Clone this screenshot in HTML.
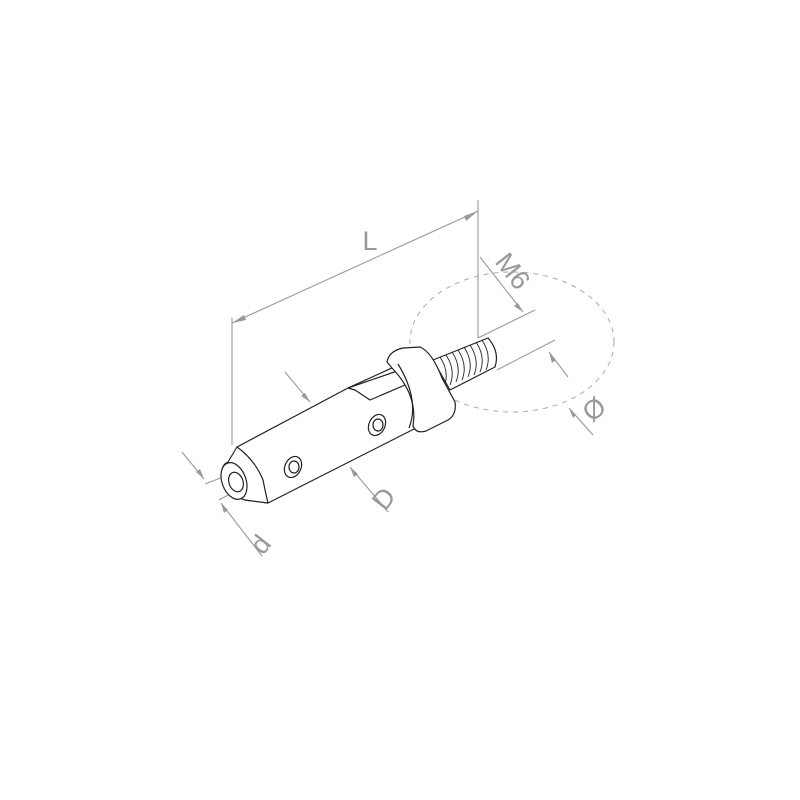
<!DOCTYPE html>
<html><head><meta charset="utf-8"><style>html,body{margin:0;background:#fff}svg{display:block}</style></head><body>
<svg width="800" height="800" viewBox="0 0 800 800" xmlns="http://www.w3.org/2000/svg">
<g fill="none" stroke="#aaa" stroke-width="1">
<ellipse cx="512" cy="342" rx="102" ry="70" stroke-dasharray="5,5"/>
</g>
<g fill="none" stroke="#999" stroke-width="1.1">
<line x1="232" y1="318" x2="232" y2="445"/>
<line x1="478" y1="200" x2="478" y2="338"/>
<line x1="232" y1="323" x2="478" y2="211"/>
<line x1="478" y1="338" x2="535" y2="310"/>
<line x1="480" y1="257" x2="523" y2="312"/>
<line x1="497" y1="370" x2="555" y2="340"/>
<line x1="568" y1="377" x2="549" y2="352"/>
<line x1="593" y1="435" x2="569" y2="408"/>
<line x1="285" y1="372" x2="310" y2="402"/>
<line x1="388" y1="512" x2="350" y2="467"/>
<line x1="182" y1="452" x2="204" y2="479"/>
<line x1="205" y1="484" x2="223" y2="477"/>
<line x1="219" y1="500" x2="230" y2="494"/>
<line x1="262" y1="556" x2="221" y2="503"/>
</g>
<g fill="#999">
<polygon points="232,323 244,315 246,320"/>
<polygon points="478,211 464,216 466,221"/>
<polygon points="523,312 514,306 518,303"/>
<polygon points="549,352 552,363 556,360"/>
<polygon points="569,408 573,418 576,415"/>
<polygon points="310,402 301,396 305,393"/>
<polygon points="350,467 354,477 358,474"/>
<polygon points="204,479 196,472 200,469"/>
<polygon points="221,503 224,513 228,510"/>
</g>
<g fill="#999" font-family="Liberation Sans, sans-serif" font-size="27">
<text x="370" y="250" text-anchor="middle">L</text>
<text transform="translate(494,262) rotate(52)">M6</text>
<text transform="translate(592,423) rotate(-40)">Ø</text>
<text transform="translate(385,512) rotate(-52)">D</text>
<text transform="translate(263,556) rotate(-52)">d</text>
</g>
<g fill="#fff" stroke="#222" stroke-width="1.2" stroke-linejoin="round">
<path d="M433,360 L488,338 Q500,352 495,367 L450,390 Z"/>
<path d="M440,357 q10,15 4,30 M446,355 q10,15 4,30 M452,352 q10,15 4,30 M458,350 q10,15 4,30 M464,347 q10,15 4,30 M470,345 q10,15 4,30 M476,342 q10,15 4,30 M482,340 q10,15 4,30" fill="none" stroke-width="0.9"/>
<path d="M237,447 L348,388 L405,362 L430,410 L418,427 L268,503 L245,500 Z"/>
<path d="M348,388 L355,390 L370,400 L405,385 L400,370 Z"/>
<path d="M387,362 Q389,351 403,348 L420,347 Q432,352 442,378 L455,402 Q457,416 446,421 L426,431 Q416,434 413,426 Q418,395 392,368 Z"/>
<path d="M409,428 Q420,400 398,364" fill="none"/>
<path d="M237,447 Q255,460 263,480 Q266,495 268,503 L245,500 Q228,495 222,480 Q220,465 228,462 Z"/>
<ellipse cx="234" cy="481" rx="12" ry="19" transform="rotate(-20 234 481)"/>
<ellipse cx="236" cy="482" rx="7" ry="10" transform="rotate(-20 236 482)"/>
<ellipse cx="293" cy="467" rx="8" ry="11" transform="rotate(25 293 467)"/>
<ellipse cx="294" cy="467" rx="5" ry="6"/>
<ellipse cx="377" cy="425" rx="8" ry="11" transform="rotate(25 377 425)"/>
<ellipse cx="378" cy="425" rx="5" ry="6"/>
</g>
</svg>
</body></html>
